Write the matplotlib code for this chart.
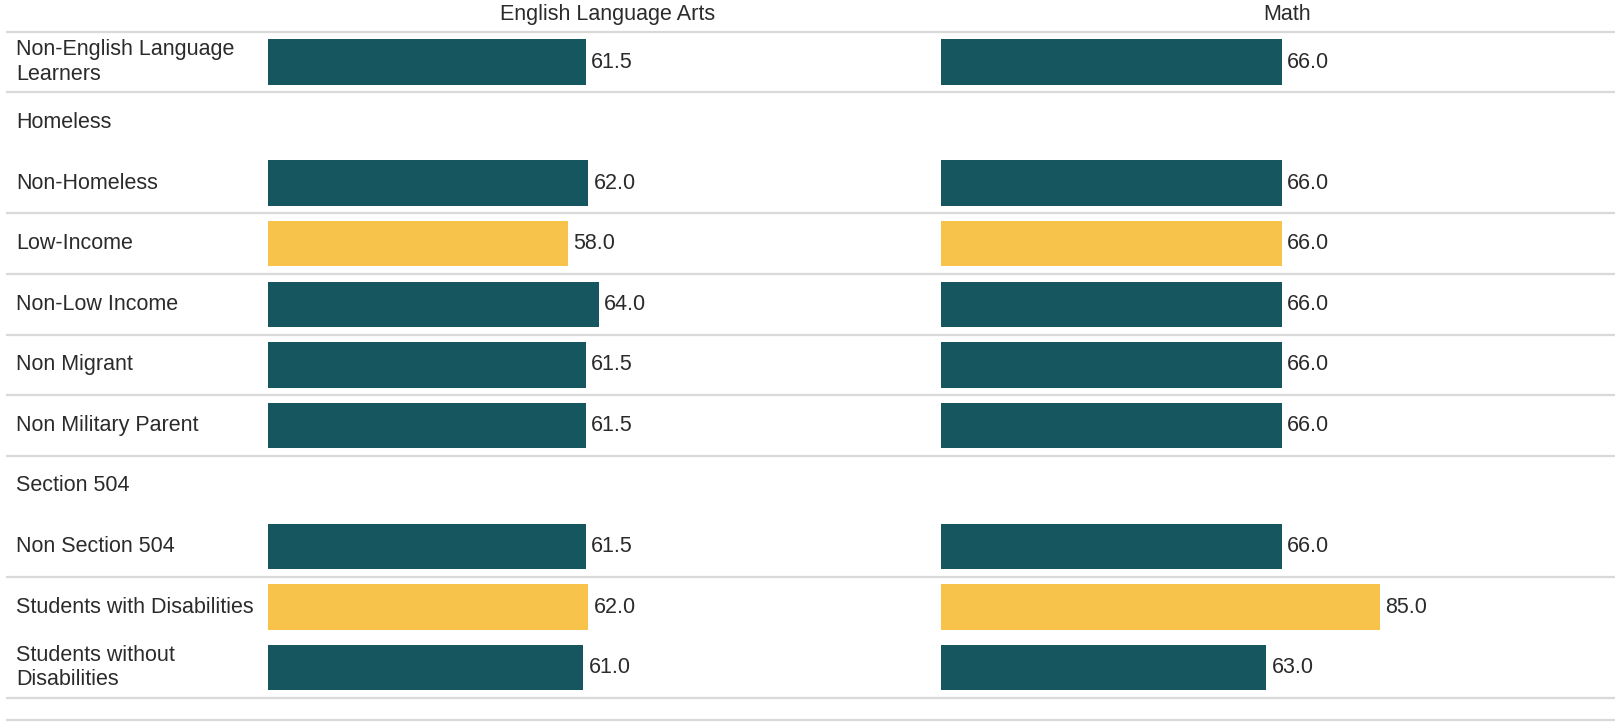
import numpy as np
from matplotlib import pyplot as plt

groups = ["Non-English Language\nLearners", "Homeless", "Non-Homeless", "Low-Income",
          "Non-Low Income", "Non Migrant", "Non Military Parent", "Section 504",
          "Non Section 504", "Students with Disabilities", "Students without\nDisabilities"]
ela = [61.5, np.nan, 62.0, 58.0, 64.0, 61.5, 61.5, np.nan, 61.5, 62.0, 61.0]
math = [66.0, np.nan, 66.0, 66.0, 66.0, 66.0, 66.0, np.nan, 66.0, 85.0, 63.0]
highlight = [0, 0, 0, 1, 0, 0, 0, 0, 0, 1, 0]
subjects = ["English Language Arts", "Math"]
# rows followed by a divider line
divider_after = [0, 2, 3, 4, 5, 6, 8, 10]

plt.rcParams['font.family'] = ['Liberation Sans', 'DejaVu Sans']
txt_color = '#2b2b2b'
teal = '#16565f'
gold = '#f7c34a'
line_c = '#d9d9d9'
fs = 15.5

W, H = 1618, 722
fig = plt.figure(figsize=(W / 100, H / 100), dpi=100)

# row index -> pixel: center of row 0 at 62px, pitch 60.57px
pitch = 60.57
y_top = -62.0 / pitch
y_bot = (H - 62.0) / pitch

bg = fig.add_axes([0, 0, 1, 1])
bg.set_xlim(0, 1)
bg.set_ylim(y_bot, y_top)
bg.axis('off')

rows = np.arange(len(groups))
bg.hlines([-0.5] + [i + 0.5 for i in divider_after], 0.004, 0.998, color=line_c, lw=1.6)
bg.hlines(rows[-1] + 0.86, 0.004, 0.998, color=line_c, lw=1.6)
for i, g in enumerate(groups):
    bg.text(16.5 / W, i, g, va='center', ha='left', fontsize=fs, color=txt_color,
            linespacing=1.22)

colors = [gold if h else teal for h in highlight]
lefts = [268.3, 941.0]
head_x = [608, 1287]
for k, vals in enumerate([ela, math]):
    ax = fig.add_axes([lefts[k] / W, 0, 516 / W, 1])
    ax.set_xlim(0, 100)
    ax.set_ylim(y_bot, y_top)
    ax.axis('off')
    ax.patch.set_alpha(0)
    ax.barh(rows, vals, height=0.75, color=colors)
    for i, v in enumerate(vals):
        if not np.isnan(v):
            ax.annotate(f"{v:.1f}", (v, i), xytext=(4, 0), textcoords='offset points',
                        va='center', ha='left', fontsize=fs, color=txt_color)
    fig.text(head_x[k] / W, 1 - 14.5 / H, subjects[k], ha='center', va='center',
             fontsize=fs, color=txt_color)

plt.savefig('out.png', dpi=100)
plt.close()
